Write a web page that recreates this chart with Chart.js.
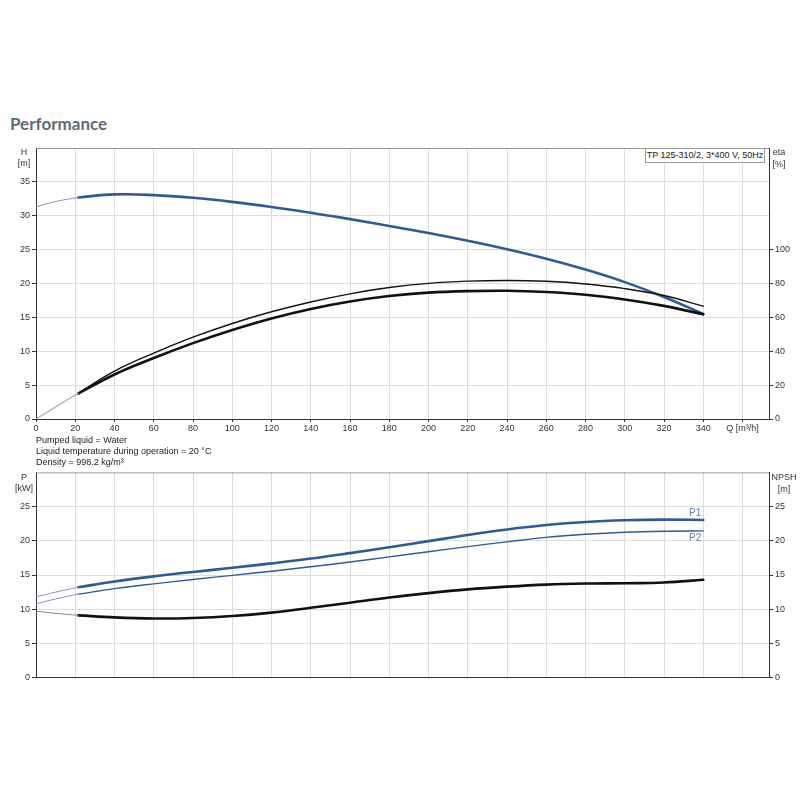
<!DOCTYPE html>
<html>
<head>
<meta charset="utf-8">
<script src="https://cdn.jsdelivr.net/npm/chart.js@4.4.0/dist/chart.umd.min.js"></script>
<style>
  html, body { margin:0; padding:0; background:#fff; }
  body { width:800px; height:800px; position:relative; overflow:hidden; font-family:"Liberation Sans", Arial, sans-serif; }
  #title { position:absolute; left:10px; top:113px; font-family:Lato, "Open Sans", sans-serif; font-weight:700; font-size:17px; color:#5f6b77; }
  #info { position:absolute; left:36px; top:435px; font-size:9px; line-height:11px; color:#222; }
  #box { position:absolute; left:645px; top:148px; width:120px; height:15px; border:1px solid #999; background:#fff; font-size:9px; line-height:13px; color:#222; text-align:center; box-sizing:border-box; }
  canvas { position:absolute; left:0; }
</style>
</head>
<body>
<div id="title">Performance</div>
<canvas id="top" width="800" height="300" style="top:140px"></canvas>
<div id="box">TP 125-310/2, 3*400 V, 50Hz</div>
<div id="info">Pumped liquid = Water<br>Liquid temperature during operation = 20 °C<br>Density = 998.2 kg/m³</div>
<canvas id="bot" width="800" height="220" style="top:465px"></canvas>
<script>
// ---- data ----
const qExt = [0, 10, 21.5];
const qMain = [21.5, 40, 60, 80, 100, 120, 140, 160, 180, 200, 220, 240, 260, 280, 300, 320, 340];

const hExt = [31.3, 32.1, 32.7];
const hMain = [32.7, 33.15, 33.05, 32.65, 32.05, 31.3, 30.45, 29.5, 28.5, 27.45, 26.3, 25.05, 23.65, 22.05, 20.2, 18.0, 15.5];

const etaExt = [0, 7.1, 15.2];
const etaTotal = [15.3, 28.3, 38.9, 48.3, 56.4, 63.3, 69.1, 73.9, 77.6, 80.1, 81.4, 81.8, 81.3, 79.7, 77.0, 72.9, 66.6];
const etaPump = [15.0, 26.3, 36.0, 44.8, 52.6, 59.4, 65.0, 69.4, 72.6, 74.6, 75.5, 75.7, 75.0, 73.4, 70.6, 66.8, 61.8];

const p1Ext = [11.8, 12.5, 13.2];
const p1Main = [13.2, 14.05, 14.8, 15.45, 16.05, 16.7, 17.4, 18.2, 19.05, 19.95, 20.85, 21.65, 22.3, 22.75, 23.0, 23.1, 23.05];
const p2Ext = [10.8, 11.5, 12.2];
const p2Main = [12.2, 13.0, 13.7, 14.35, 14.95, 15.55, 16.2, 16.9, 17.65, 18.4, 19.15, 19.85, 20.5, 20.95, 21.25, 21.4, 21.45];
const npshExt = [9.7, 9.4, 9.1];
const npshMain = [9.1, 8.8, 8.65, 8.72, 9.0, 9.5, 10.2, 10.95, 11.7, 12.35, 12.9, 13.3, 13.6, 13.75, 13.8, 13.9, 14.3];

const qTickMax = 360;
const qLabel = 'Q [m³/h]';

// ---- helpers ----
const pts = (xs, ys) => xs.map((x, i) => ({x, y: ys[i]}));
const BLUE = '#2e5b96', BLUE_L = '#8596b5', BLACK = '#111', GRAY_L = '#aaaaaa';
function ds(label, xs, ys, color, width, axis) {
  return { label, data: pts(xs, ys), borderColor: color, borderWidth: width, pointRadius: 0,
           fill: false, tension: 0.4, yAxisID: axis, borderCapStyle: 'round' };
}

Chart.defaults.font.family = '"Liberation Sans", Arial, sans-serif';
Chart.defaults.font.size = 9;
Chart.defaults.color = '#333';

function framePlugin(leftTitle, rightTitle) {
  return {
    id: 'frame',
    beforeDatasetsDraw(chart) {
      const {ctx, chartArea: a} = chart;
      ctx.save();
      ctx.strokeStyle = '#999';
      ctx.lineWidth = 1;
      ctx.beginPath();
      ctx.moveTo(a.left, a.top + 0.5); ctx.lineTo(a.right, a.top + 0.5);
      ctx.stroke();
      ctx.restore();
    },
    afterDraw(chart) {
      const {ctx, chartArea: a} = chart;
      ctx.save();
      ctx.fillStyle = '#333';
      ctx.font = '9px "Liberation Sans", Arial, sans-serif';
      ctx.textAlign = 'center';
      ctx.textBaseline = 'middle';
      ctx.fillText(leftTitle[0], 24, a.top + 5);
      ctx.fillText(leftTitle[1], 24, a.top + 16);
      ctx.fillText(rightTitle[0], rightTitle[2], a.top + 5);
      ctx.fillText(rightTitle[1], rightTitle[2], a.top + 17);
      ctx.restore();
    }
  };
}

const xCommon = (showTicks) => ({
  type: 'linear', min: 0, max: 373.5,
  afterFit(s) { s.height = showTicks ? 21 : 7; },
  border: { color: '#333' },
  grid: { color: '#dcdcdc', tickColor: '#333', tickLength: 3, drawTicks: showTicks },
  ticks: { display: showTicks, stepSize: 20, includeBounds: false, maxRotation: 0, autoSkip: false, padding: 1,
           callback: v => (v === qTickMax ? qLabel : v) }
});

// ---- top chart ----
new Chart(document.getElementById('top'), {
  type: 'line',
  data: { datasets: [
    ds('H ext', qExt, hExt, BLUE_L, 1, 'yH'),
    ds('eta ext', qExt, etaExt, GRAY_L, 1.2, 'yE'),
    ds('eta total', qMain, etaTotal, BLACK, 1.4, 'yE'),
    ds('eta', qMain, etaPump, BLACK, 2.6, 'yE'),
    ds('H', qMain, hMain, BLUE, 2.6, 'yH')
  ]},
  options: {
    responsive: false, animation: false,
    layout: { padding: { top: 8, left: 0, right: 0, bottom: 0 } },
    plugins: { legend: { display: false }, tooltip: { enabled: false } },
    scales: {
      x: xCommon(true),
      yH: { type: 'linear', position: 'left', min: 0, max: 40,
        afterFit(s) { s.width = 36; },
        border: { color: '#333' },
        grid: { color: '#dcdcdc', tickColor: '#333', tickLength: 4 },
        ticks: { stepSize: 5, padding: 2, callback: v => (v >= 40 ? null : v) } },
      yE: { type: 'linear', position: 'right', min: 0, max: 160,
        afterFit(s) { s.width = 31; },
        border: { color: '#333' },
        grid: { drawOnChartArea: false, tickColor: '#333', tickLength: 4 },
        ticks: { stepSize: 20, padding: 2, callback: v => (v > 100 ? null : v) } }
    }
  },
  plugins: [framePlugin(['H', '[m]'], ['eta', '[%]', 779])]
});

// ---- bottom chart ----
const labelPlugin = {
  id: 'plabels',
  afterDatasetsDraw(chart) {
    const {ctx} = chart;
    const x = chart.scales.x, y = chart.scales.yP;
    const last = qMain.length - 1;
    ctx.save();
    ctx.fillStyle = '#5f7ea8';
    ctx.font = '10px "Liberation Sans", Arial, sans-serif';
    ctx.textAlign = 'right';
    ctx.textBaseline = 'middle';
    ctx.fillText('P1', x.getPixelForValue(qMain[last]) - 2, y.getPixelForValue(p1Main[last]) - 7);
    ctx.fillText('P2', x.getPixelForValue(qMain[last]) - 2, y.getPixelForValue(p2Main[last]) + 7);
    ctx.restore();
  }
};

new Chart(document.getElementById('bot'), {
  type: 'line',
  data: { datasets: [
    ds('P1 ext', qExt, p1Ext, BLUE_L, 1, 'yP'),
    ds('P2 ext', qExt, p2Ext, BLUE_L, 1, 'yP'),
    ds('NPSH ext', qExt, npshExt, '#888', 1, 'yN'),
    ds('P2', qMain, p2Main, BLUE, 1.4, 'yP'),
    ds('P1', qMain, p1Main, BLUE, 2.6, 'yP'),
    ds('NPSH', qMain, npshMain, BLACK, 2.6, 'yN')
  ]},
  options: {
    responsive: false, animation: false,
    layout: { padding: { top: 7, left: 0, right: 0, bottom: 0 } },
    plugins: { legend: { display: false }, tooltip: { enabled: false } },
    scales: {
      x: xCommon(false),
      yP: { type: 'linear', position: 'left', min: 0, max: 30,
        afterFit(s) { s.width = 36; },
        border: { color: '#333' },
        grid: { color: '#dcdcdc', tickColor: '#333', tickLength: 4 },
        ticks: { stepSize: 5, padding: 2, callback: v => (v >= 30 ? null : v) } },
      yN: { type: 'linear', position: 'right', min: 0, max: 30,
        afterFit(s) { s.width = 31; },
        border: { color: '#333' },
        grid: { drawOnChartArea: false, tickColor: '#333', tickLength: 4 },
        ticks: { stepSize: 5, padding: 2, callback: v => (v >= 30 ? null : v) } }
    }
  },
  plugins: [framePlugin(['P', '[kW]'], ['NPSH', '[m]', 784]), labelPlugin]
});
</script>
</body>
</html>
